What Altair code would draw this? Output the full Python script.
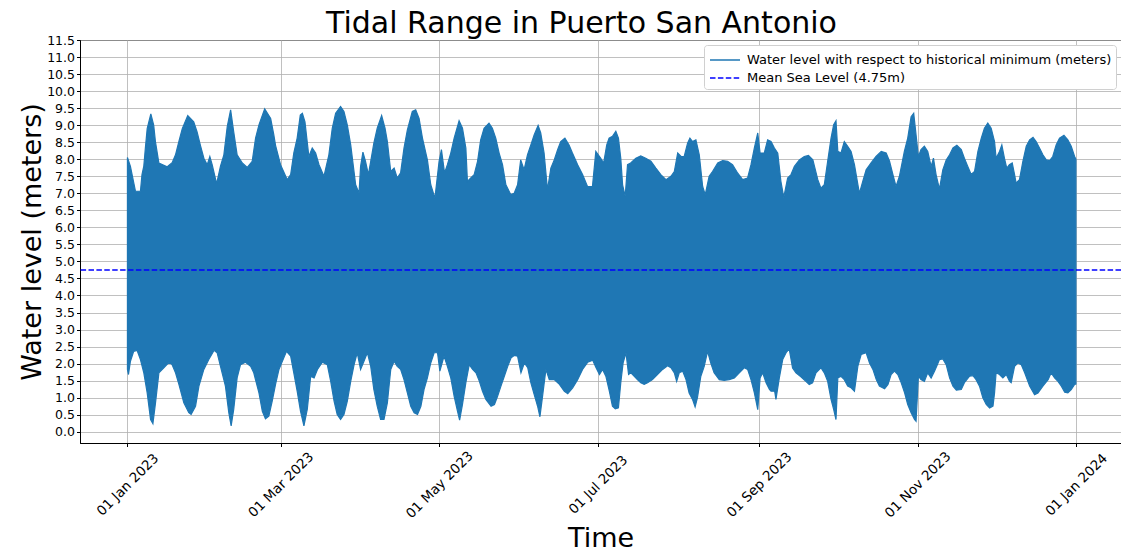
import altair as alt
import pandas as pd

# ---- data (day offset from 2023-01-01, metres) ----
upper_days = [0, 1.15, 3.1, 5.0, 5.6, 6.3, 6.9, 7.6, 9.0, 10.1, 10.8, 12.1, 15.3, 17.2, 18.5, 19.8, 21.1, 23.2,
              25.5, 26.8, 28.1, 29.4, 30.7, 31.7, 32.6, 34.3, 35.8, 37.1, 38.4, 39.7, 40.9, 42.2, 44.2, 46.1,
              48.0, 49.3, 50.6, 52.8, 55.1, 56.3, 57.0, 58.9, 61.5, 62.8, 64.0, 65.3, 66.5, 67.3, 68.3, 69.0,
              69.8, 71.1, 72.4, 73.7, 75.6, 77.5, 78.8, 80.1, 82.0, 83.3, 84.6, 85.9, 87.8, 89.1, 89.7, 90.6,
              91.6, 92.7, 93.6, 94.8, 96.1, 97.8, 99.1, 100.0, 101.3, 102.6, 103.8, 105.1, 106.4, 107.7, 109.6,
              110.9, 112.2, 113.5, 115.4, 116.7, 118.3, 119.9, 120.8, 122.0, 123.1, 124.4, 125.7, 127.6, 128.9,
              130.2, 130.8, 132.1, 133.4, 134.7, 135.9, 137.2, 139.1, 140.4, 141.7, 143.0, 144.3, 145.6, 147.5,
              148.8, 150.1, 151.3, 152.6, 153.9, 155.2, 156.5, 158.0, 159.0, 160.3, 161.6, 162.9, 164.2, 165.5,
              166.7, 168.3, 169.9, 171.2, 173.2, 175.1, 177.0, 178.9, 180.2, 182.1, 183.2, 184.4, 185.3, 186.6,
              187.9, 188.9, 189.8, 190.5, 191.5, 192.4, 193.6, 195.6, 197.5, 199.4, 201.4, 203.3, 205.2, 207.2,
              209.1, 210.4, 211.7, 213.0, 214.2, 215.5, 216.4, 217.4, 218.7, 220.0, 221.3, 222.3, 223.8, 225.1,
              227.1, 229.0, 230.9, 232.8, 234.8, 236.7, 238.6, 239.9, 241.2, 242.5, 243.4, 245.0, 246.3, 247.6,
              248.9, 250.2, 251.4, 252.5, 254.0, 255.3, 256.6, 258.5, 260.4, 262.0, 263.7, 265.6, 266.8, 268.1,
              269.4, 270.7, 271.7, 272.6, 273.3, 274.5, 275.8, 277.1, 278.4, 279.7, 281.6, 282.9, 284.2, 286.1,
              288.0, 290.0, 291.9, 293.2, 294.5, 295.7, 297.0, 298.9, 300.2, 301.5, 302.5, 303.4, 304.3, 305.3,
              306.6, 307.9, 309.2, 310.1, 311.1, 312.4, 313.7, 315.0, 316.3, 317.6, 319.1, 320.8, 322.0, 323.3,
              324.6, 325.9, 327.2, 328.5, 329.7, 331.0, 332.3, 333.6, 334.2, 335.5, 336.4, 337.4, 338.3, 339.3,
              340.4, 341.3, 341.9, 343.2, 344.5, 345.8, 347.1, 348.4, 349.6, 350.9, 352.2, 353.5, 354.8, 356.0,
              357.3, 358.6, 360.3, 361.8, 363.1, 364.4, 364.9]
upper_vals = [8.05, 7.79, 7.06, 7.06, 7.55, 7.8, 8.33, 8.9, 9.33, 9.0, 8.5, 7.89, 7.78, 7.9, 8.13, 8.52, 8.9, 9.28,
              9.1, 8.8, 8.4, 8.03, 7.84, 8.08, 7.84, 7.28, 7.8, 8.13, 8.96, 9.45, 8.8, 8.13, 7.89, 7.76,
              7.94, 8.62, 9.01, 9.48, 9.2, 8.72, 8.4, 7.84, 7.4, 7.55, 8.18, 8.62, 9.3, 9.35, 9.1, 8.62,
              8.08, 8.33, 8.18, 7.84, 7.5, 8.13, 8.91, 9.35, 9.55, 9.4, 9.0, 8.42, 7.25, 7.0, 7.79, 8.21,
              7.94, 7.55, 7.94, 8.47, 8.91, 9.28, 8.91, 8.52, 7.64, 7.74, 7.45, 7.6, 8.33, 8.86, 9.4,
              9.45, 9.2, 8.62, 7.98, 7.25, 6.86, 7.94, 8.28, 7.6, 7.84, 8.18, 8.62, 9.13, 8.91,
              8.33, 7.35, 7.45, 7.55, 7.94, 8.57, 8.91, 9.06, 8.91, 8.62, 8.18, 7.84, 7.25, 6.96,
              7.0, 7.25, 7.98, 7.69, 8.13, 8.42, 8.72, 8.99, 8.77, 8.18, 7.1, 7.74, 7.98, 8.28,
              8.52, 8.62, 8.42, 8.18, 7.84, 7.55, 7.2, 7.2, 8.23, 8.03, 7.89, 8.42, 8.62, 8.67,
              8.82, 8.62, 8.03, 7.25, 6.91, 7.84, 7.89, 8.03, 8.1, 8.03, 7.94, 7.74, 7.55, 7.4,
              7.5, 7.64, 8.18, 8.08, 8.08, 8.47, 8.62, 8.52, 8.57, 8.13, 7.2, 6.96, 7.5, 7.64,
              7.89, 7.96, 7.94, 7.84, 7.59, 7.4, 7.45, 7.84, 8.33, 8.77, 8.18, 8.18, 8.57, 8.52,
              8.33, 8.18, 7.35, 6.88, 7.45, 7.55, 7.79, 7.98, 8.08, 8.11, 7.98, 7.4, 7.15, 7.25,
              7.94, 8.62, 9.01, 9.13, 8.23, 8.18, 8.52, 8.38, 8.23, 7.84, 7.0, 7.35, 7.69, 7.89,
              8.08, 8.23, 8.18, 7.94, 7.55, 7.2, 7.5, 8.23, 8.62, 9.25, 9.35, 8.72, 8.08, 8.28,
              8.38, 8.23, 7.79, 8.03, 7.55, 7.12, 7.69, 7.98, 8.13, 8.33, 8.41, 8.28, 8.03, 7.79,
              7.55, 7.64, 8.23, 8.62, 8.91, 9.06, 8.91, 8.52, 8.03, 8.23, 8.42, 8.03, 7.74, 7.84,
              7.89, 7.55, 7.3, 7.4, 7.94, 8.38, 8.57, 8.64, 8.52, 8.33, 8.13, 7.98, 7.96, 8.08,
              8.42, 8.62, 8.7, 8.57, 8.38, 8.08, 8.0]

lower_days = [0, 0.4, 1.15, 2.4, 3.7, 5.0, 6.3, 7.6, 8.9, 9.8, 10.8, 12.1, 14.0, 16.0, 17.2, 18.5, 19.8, 21.7,
              23.6, 24.5, 26.2, 27.5, 29.4, 31.3, 33.3, 34.5, 35.8, 37.7, 39.0, 39.9, 40.9, 42.2, 43.5, 45.4,
              47.4, 48.6, 50.6, 51.9, 53.1, 54.4, 55.7, 57.0, 58.3, 59.6, 61.2, 62.8, 64.0, 65.3, 66.6, 67.9,
              69.2, 70.5, 71.8, 73.1, 75.0, 76.9, 78.2, 79.5, 80.7, 82.0, 83.3, 84.6, 85.9, 87.2, 88.4, 89.7,
              91.0, 92.3, 93.6, 94.8, 96.1, 97.4, 98.7, 100.0, 101.3, 102.6, 103.8, 105.1, 106.4, 107.7, 109.0,
              110.3, 111.6, 112.9, 114.1, 115.4, 116.7, 118.0, 119.3, 120.2, 121.0, 121.8, 123.1, 124.4, 125.7,
              127.0, 127.8, 128.9, 130.2, 131.5, 132.8, 134.1, 135.4, 136.6, 137.9, 139.9, 141.2, 142.4, 143.7,
              145.0, 146.3, 147.6, 148.8, 150.1, 151.4, 152.7, 154.0, 155.2, 156.5, 157.8, 158.7, 159.7, 161.0,
              162.3, 164.2, 166.2, 168.1, 169.4, 171.3, 173.2, 175.1, 177.1, 179.0, 180.3, 181.6, 182.8, 184.1,
              185.4, 186.6, 187.7, 188.9, 189.8, 190.7, 191.8, 192.8, 193.7, 195.0, 196.2, 197.5, 198.8, 200.1,
              202.0, 203.9, 205.9, 207.8, 209.1, 210.4, 211.3, 212.3, 213.6, 214.9, 216.1, 217.4, 218.4, 219.3,
              220.6, 221.9, 223.2, 224.4, 225.7, 227.7, 229.6, 231.5, 233.5, 235.4, 237.3, 238.6, 239.9, 241.2,
              242.5, 243.4, 244.4, 245.7, 247.0, 247.6, 249.0, 249.5, 250.8, 252.1, 253.4, 254.6, 255.9, 257.2,
              259.1, 261.0, 262.3, 263.6, 264.9, 266.8, 268.1, 269.4, 270.7, 271.7, 272.6, 273.3, 274.5, 275.8,
              277.1, 278.4, 279.7, 281.0, 282.3, 284.2, 285.5, 286.8, 288.1, 289.3, 291.3, 292.6, 293.8, 295.1,
              296.4, 297.7, 299.0, 300.2, 301.5, 302.8, 303.4, 304.3, 305.3, 306.6, 307.9, 309.2, 310.5, 311.5,
              312.4, 313.7, 315.0, 316.3, 317.6, 318.9, 320.8, 322.0, 324.0, 325.3, 326.5, 327.8, 329.1, 330.4,
              331.7, 333.0, 333.6, 334.2, 335.5, 336.8, 338.1, 339.4, 340.0, 341.3, 342.6, 343.9, 345.2, 347.1,
              349.0, 350.3, 352.2, 354.2, 355.4, 356.7, 358.0, 359.3, 360.6, 361.8, 363.1, 364.4, 364.9]
lower_vals = [1.83, 1.68, 2.07, 2.36, 2.39, 2.12, 1.73, 1.14, 0.36, 0.24, 0.85, 1.73, 1.88, 2.04, 1.97, 1.73, 1.39, 0.85,
              0.56, 0.51, 0.75, 1.34, 1.83, 2.12, 2.39, 2.32, 1.92, 1.34, 0.56, 0.17, 0.66, 1.58, 1.97, 2.04,
              1.92, 1.73, 1.14, 0.6, 0.38, 0.46, 0.9, 1.4, 1.83, 2.07, 2.36, 2.22, 1.73, 1.19, 0.6, 0.17,
              0.66, 1.63, 1.58, 1.83, 2.04, 1.97, 1.48, 0.9, 0.51, 0.36, 0.51, 0.9, 1.48, 1.97, 2.32, 1.83,
              2.07, 2.32, 1.92, 1.24, 0.75, 0.36, 0.36, 0.85, 1.83, 2.07, 1.92, 1.83, 1.53, 1.14, 0.75,
              0.56, 0.51, 0.75, 1.24, 1.58, 2.02, 2.32, 2.32, 1.78, 2.0, 2.22, 1.92, 1.58, 1.04,
              0.6, 0.34, 0.8, 1.44, 1.97, 1.83, 1.73, 1.48, 1.19, 0.95, 0.75, 0.8, 1.04, 1.34,
              1.63, 1.92, 2.17, 2.24, 2.22, 1.73, 2.02, 1.88, 1.44, 1.09, 0.75, 0.44, 1.04, 1.83,
              1.53, 1.53, 1.39, 1.19, 1.12, 1.29, 1.53, 1.83, 2.04, 2.1, 1.88, 1.68, 1.83, 1.62,
              1.19, 0.75, 0.67, 0.7, 1.44, 2.02, 2.32, 1.68, 1.73, 1.63, 1.53, 1.44, 1.39, 1.44,
              1.53, 1.68, 1.83, 1.94, 1.88, 1.73, 1.48, 1.73, 1.78, 1.53, 1.14, 0.95, 0.73, 1.0,
              1.63, 1.92, 2.36, 2.02, 1.73, 1.53, 1.51, 1.53, 1.58, 1.73, 1.88, 1.83, 1.53, 1.14,
              0.65, 1.58, 1.73, 1.44, 1.24, 1.19, 1.19, 0.95, 1.58, 2.12, 2.32, 2.43, 1.87, 1.73,
              1.61, 1.48, 1.39, 1.44, 1.73, 1.88, 1.73, 1.48, 0.95, 0.66, 0.36, 1.58, 1.63, 1.53,
              1.34, 1.29, 1.19, 1.92, 2.27, 2.32, 2.02, 1.83, 1.53, 1.34, 1.26, 1.39, 1.68, 1.78,
              1.68, 1.44, 1.14, 0.8, 0.56, 0.36, 0.31, 1.63, 1.53, 1.48, 1.73, 1.58, 1.78, 1.95,
              2.12, 2.14, 1.97, 1.58, 1.34, 1.22, 1.24, 1.44, 1.63, 1.65, 1.53, 1.34, 1.0, 0.8,
              0.7, 0.75, 1.14, 1.73, 1.68, 1.58, 1.68, 1.48, 1.44, 1.92, 2.02, 1.97, 1.73, 1.34,
              1.09, 1.14, 1.34, 1.53, 1.73, 1.58, 1.48, 1.34, 1.16, 1.14, 1.24, 1.39, 1.4]

mean_sea_level = 4.75
series_labels = ["Water level with respect to historical minimum (meters)", "Mean Sea Level (4.75m)"]
y_ticks = [i * 0.5 for i in range(24)]

start = pd.Timestamp("2023-01-01")
upper_df = pd.DataFrame({"time": start + pd.to_timedelta(upper_days, unit="D"), "level": upper_vals})
lower_df = pd.DataFrame({"time": start + pd.to_timedelta(lower_days, unit="D"), "level": lower_vals})
msl_df = pd.DataFrame({"series": [series_labels[1]], "level": [mean_sea_level]})

FONT = "DejaVu Sans"
BLUE = "#1f77b4"

x_scale = alt.Scale(domain=[alt.DateTime(year=2022, month=12, date=13, hours=18),
                            alt.DateTime(year=2024, month=1, date=18, hours=6)])
y_scale = alt.Scale(domain=[-0.33, 11.5], nice=False, zero=False)

x_axis = alt.Axis(
    title="Time", format="%d %b %Y", labelAngle=315, labelAlign="center", labelBaseline="middle",
    labelPadding=38, values=[alt.DateTime(year=2023, month=m, date=1) for m in [1, 3, 5, 7, 9, 11]]
    + [alt.DateTime(year=2024, month=1, date=1)],
    titleFontSize=27, titleFontWeight="normal", titlePadding=5, labelFontSize=13.5, labelOverlap=False,
)
y_axis = alt.Axis(title="Water level (meters)", values=y_ticks, format=".1f", labelOverlap=False,
                  titleFontSize=27, titleFontWeight="normal", titlePadding=0, labelFontSize=12.5)

upper = alt.Chart(upper_df).mark_area(color=BLUE, stroke=BLUE, strokeWidth=1.2).encode(
    x=alt.X("time:T", scale=x_scale, axis=x_axis),
    y=alt.Y("level:Q", scale=y_scale, axis=y_axis),
    y2=alt.datum(mean_sea_level),
)
lower = alt.Chart(lower_df).mark_area(color=BLUE, stroke=BLUE, strokeWidth=1.2).encode(
    x=alt.X("time:T", scale=x_scale, axis=x_axis),
    y=alt.Y("level:Q", scale=y_scale, axis=y_axis),
    y2=alt.datum(mean_sea_level),
)
msl = alt.Chart(msl_df).mark_rule(strokeWidth=1.6).encode(
    y=alt.Y("level:Q", scale=y_scale, axis=y_axis),
    color=alt.Color("series:N", scale=alt.Scale(domain=series_labels, range=[BLUE, "#0000ff"]),
                    legend=alt.Legend(title=None, orient="top-right", offset=5,
                                      symbolType="M-1.5,0L1.5,0", symbolSize=400, symbolOffset=6,
                                      symbolStrokeWidth=1.6, labelFontSize=13, labelOffset=11,
                                      labelLimit=500, fillColor="white", strokeColor="#d0d0d0",
                                      cornerRadius=3, padding=4, rowPadding=0)),
    strokeDash=alt.StrokeDash("series:N", scale=alt.Scale(domain=series_labels, range=[[1, 0], [5.5, 2.4]])),
)

chart = alt.layer(upper, lower, msl).properties(
    width=1041, height=403,
    title=alt.Title("Tidal Range in Puerto San Antonio", fontSize=30, fontWeight="normal", font=FONT,
                    anchor="middle", offset=6, dx=-19, dy=11),
    autosize=alt.AutoSizeParams(type="none"),
    padding={"left": 80, "top": 40, "right": 0, "bottom": 110},
).configure(font=FONT).configure_view(stroke="black", strokeWidth=1).configure_axis(
    labelFont=FONT, titleFont=FONT, labelColor="black", titleColor="black",
    domainColor="black", tickColor="black", tickSize=3.5, gridColor="#b0b0b0", gridWidth=0.8,
).configure_legend(labelFont=FONT, labelColor="black")

chart.save("out.html", embed_options={"renderer": "svg", "actions": False})
